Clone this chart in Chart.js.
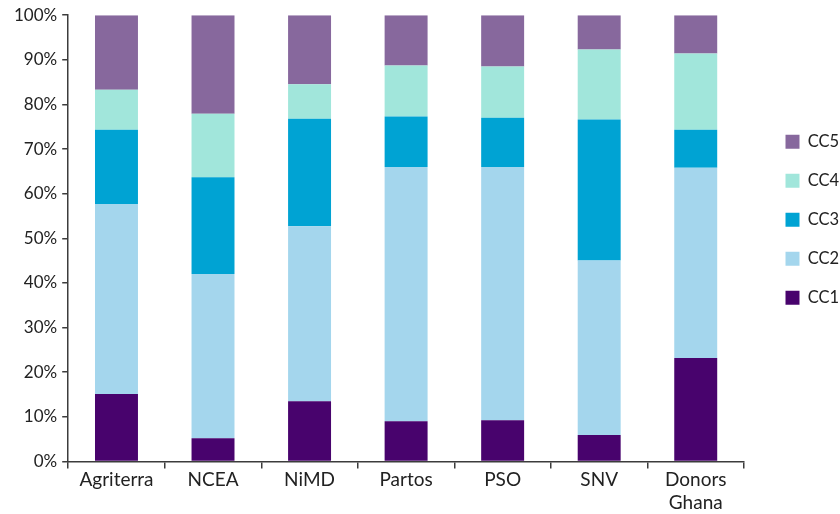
<!DOCTYPE html>
<html>
<head>
<meta charset="utf-8">
<script src="https://cdn.jsdelivr.net/npm/chart.js@4/dist/chart.umd.min.js"></script>
<style>
  html, body { margin: 0; padding: 0; background: #fff; }
  #wrap { width: 840px; height: 514px; }
</style>
</head>
<body>
<div id="wrap"><canvas id="chart"></canvas></div>
<script>
// categories and shares (%) per capability level
const categories = ['Agriterra', 'NCEA', 'NiMD', 'Partos', 'PSO', 'SNV', ['Donors', 'Ghana']]
const cc1 = [15.1, 5.2, 13.5, 9.0, 9.2, 5.9, 23.2]
const cc2 = [42.6, 36.8, 39.2, 57.0, 56.8, 39.1, 42.6]
const cc3 = [16.6, 21.7, 24.1, 11.3, 11.0, 31.6, 8.5]
const cc4 = [9.0, 14.2, 7.7, 11.4, 11.5, 15.7, 17.1]
const cc5 = [16.7, 22.1, 15.5, 11.3, 11.5, 7.7, 8.6]
const yTicks = [0, 10, 20, 30, 40, 50, 60, 70, 80, 90, 100]

const seriesNames = ['CC1', 'CC2', 'CC3', 'CC4', 'CC5']
const seriesData = [cc1, cc2, cc3, cc4, cc5]
const seriesColours = ['#48036d', '#a4d6ed', '#00a3d3', '#a1e6db', '#87689d']

const axisColour = '#3c3c3c'
const textColour = '#222'
const fontFamily = 'Lato, "Open Sans", sans-serif'

let datasets = []
for (let i = 0; i < seriesNames.length; ++i) {
  datasets.push({
    label: seriesNames[i],
    data: seriesData[i],
    backgroundColor: seriesColours[i],
    borderWidth: 0,
    categoryPercentage: 1,
    barPercentage: 0.445,
  })
}

let ctx = document.getElementById('chart').getContext('2d')
let chart = new Chart(ctx, {
  type: 'bar',
  data: {
    labels: categories,
    datasets: datasets,
  },
  options: {
    responsive: true,
    maintainAspectRatio: false,
    animation: false,
    layout: {
      padding: {left: 9, right: 0, top: 11, bottom: 0},
    },
    plugins: {
      tooltip: {enabled: false},
      legend: {
        position: 'right',
        align: 'start',
        reverse: true,
        maxWidth: 77,
        // empty title used as a spacer to push the items down
        title: {display: true, text: '', font: {size: 10, lineHeight: 1}, padding: {top: 90, bottom: 0}},
        labels: {
          boxWidth: 14,
          boxHeight: 14,
          padding: 22.5,
          color: textColour,
          font: {family: fontFamily, size: 16.5},
        },
      },
    },
    scales: {
      x: {
        stacked: true,
        border: {color: axisColour, width: 1.5},
        grid: {drawOnChartArea: false, drawTicks: true, tickLength: 7, color: axisColour, lineWidth: 1.5},
        ticks: {
          color: textColour,
          padding: 0,
          maxRotation: 0,
          autoSkip: false,
          font: {family: fontFamily, size: 19},
        },
      },
      y: {
        stacked: true,
        min: 0,
        max: 100,
        border: {color: axisColour, width: 1.5},
        grid: {drawOnChartArea: false, drawTicks: true, tickLength: 6, color: axisColour, lineWidth: 1.5},
        afterBuildTicks: axis => { axis.ticks = yTicks.map(v => ({value: v})) },
        ticks: {
          color: textColour,
          padding: 5,
          font: {family: fontFamily, size: 17},
          callback: v => v + '%',
        },
      },
      // blank axis, only there to leave a gap before the legend
      gap: {
        position: 'right',
        display: true,
        grid: {display: false},
        border: {display: false},
        ticks: {display: false},
        afterFit: axis => { axis.width = 19 },
      },
    },
  },
})
</script>
</body>
</html>
